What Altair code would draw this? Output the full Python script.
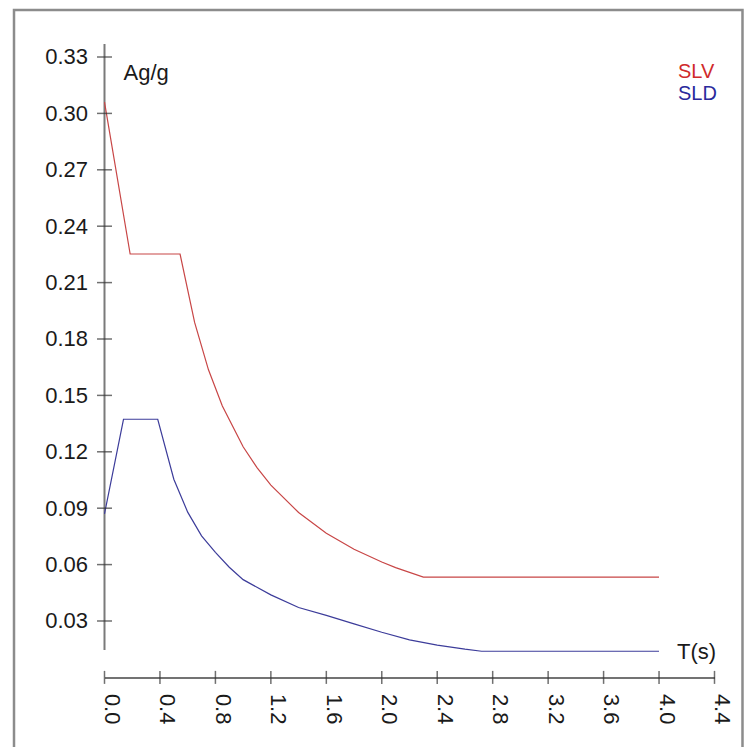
import altair as alt
import pandas as pd

# SLV (red) spectrum
T_SLV = [0.0, 0.185, 0.545, 0.65, 0.75, 0.85, 1.0, 1.1, 1.2, 1.4, 1.6, 1.8, 2.0, 2.1, 2.3, 4.0]
A_SLV = [0.306, 0.2252, 0.2252, 0.1888, 0.1636, 0.1444, 0.1227, 0.1116, 0.1023, 0.0877,
         0.0767, 0.0682, 0.0614, 0.0584, 0.0533, 0.0533]

# SLD (blue) spectrum
T_SLD = [0.0, 0.137, 0.384, 0.5, 0.6, 0.7, 0.8, 0.9, 1.0, 1.2, 1.4, 1.6, 1.8, 2.0,
         2.2, 2.4, 2.6, 2.72, 4.0]
A_SLD = [0.087, 0.1373, 0.1373, 0.1054, 0.0879, 0.0753, 0.0665, 0.0586, 0.0520, 0.0439,
         0.0372, 0.0330, 0.0285, 0.0240, 0.0200, 0.0172, 0.0150, 0.0139, 0.0139]

X_TICKS = [0.0, 0.4, 0.8, 1.2, 1.6, 2.0, 2.4, 2.8, 3.2, 3.6, 4.0, 4.4]
Y_TICKS = [0.03, 0.06, 0.09, 0.12, 0.15, 0.18, 0.21, 0.24, 0.27, 0.30, 0.33]

SERIES = ["SLV", "SLD"]
LINE_COLORS = ["#c84646", "#3c3c9a"]
TEXT_COLORS = ["#d02a2a", "#2a2a9c"]

FONT = "Liberation Sans"
FS = 22
LEG_FS = 20
TXT = "#1a1a1a"

df = pd.DataFrame({
    "T": T_SLV + T_SLD,
    "A": A_SLV + A_SLD,
    "series": ["SLV"] * len(T_SLV) + ["SLD"] * len(T_SLD),
})
xt = pd.DataFrame({"T": X_TICKS, "A": [0.0] * len(X_TICKS)})
yt = pd.DataFrame({"T": [0.0] * len(Y_TICKS), "A": Y_TICKS})

xscale = alt.Scale(domain=[0, 4.4], nice=False, zero=False)
yscale = alt.Scale(domain=[0, 0.345], nice=False, zero=False)

x_axis = alt.Axis(
    values=X_TICKS, format=".1f", labelAngle=90, labelAlign="left",
    labelBaseline="alphabetic", labelPadding=16, ticks=False, grid=False,
    domainColor="#444444", domainWidth=1.5, labelFont=FONT, labelFontSize=FS,
    labelColor=TXT, title="T(s)", titleX=572, titleY=-19, titleAlign="left",
    titleBaseline="alphabetic", titleFont=FONT, titleFontSize=FS,
    titleFontWeight="normal", titleColor=TXT, labelOverlap=False,
)
y_axis = alt.Axis(
    values=Y_TICKS, format=".2f", domain=False, ticks=False, grid=False,
    labelPadding=17, labelAlign="right", labelBaseline="middle",
    labelFont=FONT, labelFontSize=FS, labelColor=TXT, labelOverlap=False,
    title="Ag/g", titleAngle=0, titleX=18.5, titleY=51, titleAlign="left",
    titleBaseline="alphabetic", titleFont=FONT, titleFontSize=FS,
    titleFontWeight="normal", titleColor=TXT,
)

one = alt.Data(values=[{}])

frame = alt.Chart(one).mark_rect(fillOpacity=0, stroke="#8c8c8c", strokeWidth=2.5).encode(
    x=alt.value(-90.5), x2=alt.value(638), y=alt.value(-18.8), y2=alt.value(760)
)

lines = alt.Chart(df).mark_line(strokeWidth=1.2).encode(
    x=alt.X("T:Q", scale=xscale, axis=x_axis, title="T(s)"),
    y=alt.Y("A:Q", scale=yscale, axis=y_axis, title="Ag/g"),
    color=alt.Color("series:N", scale=alt.Scale(domain=SERIES, range=LINE_COLORS), legend=None),
)

yline = alt.Chart(one).mark_rule(color="#7a7a7a", strokeWidth=2).encode(
    x=alt.datum(0), y=alt.datum(0.0146), y2=alt.datum(0.3369)
)

xticks = alt.Chart(xt).mark_tick(orient="vertical", size=13, thickness=1.5, color="#333333").encode(
    x=alt.X("T:Q", scale=xscale, title="T(s)"),
    y=alt.Y("A:Q", scale=yscale, title="Ag/g"),
)
yticks = alt.Chart(yt).mark_tick(orient="horizontal", size=15, thickness=1.5, color="#333333").encode(
    x=alt.X("T:Q", scale=xscale, title="T(s)"),
    y=alt.Y("A:Q", scale=yscale, title="Ag/g"),
)

leg1 = alt.Chart(one).mark_text(text=SERIES[0], align="left", baseline="alphabetic",
                                font=FONT, fontSize=LEG_FS, color=TEXT_COLORS[0]).encode(
    x=alt.value(573.5), y=alt.value(49.2))
leg2 = alt.Chart(one).mark_text(text=SERIES[1], align="left", baseline="alphabetic",
                                font=FONT, fontSize=LEG_FS, color=TEXT_COLORS[1]).encode(
    x=alt.value(573.5), y=alt.value(71.5))

chart = alt.layer(frame, yline, lines, xticks, yticks, leg1, leg2).properties(
    width=610, height=648.6,
    padding={"left": 96.5, "top": 20.8, "right": 29.5, "bottom": 70},
    autosize=alt.AutoSizeParams(type="none"),
    background="white",
).configure_view(stroke=None)

chart.save("out.html", embed_options={"renderer": "svg", "actions": False})
